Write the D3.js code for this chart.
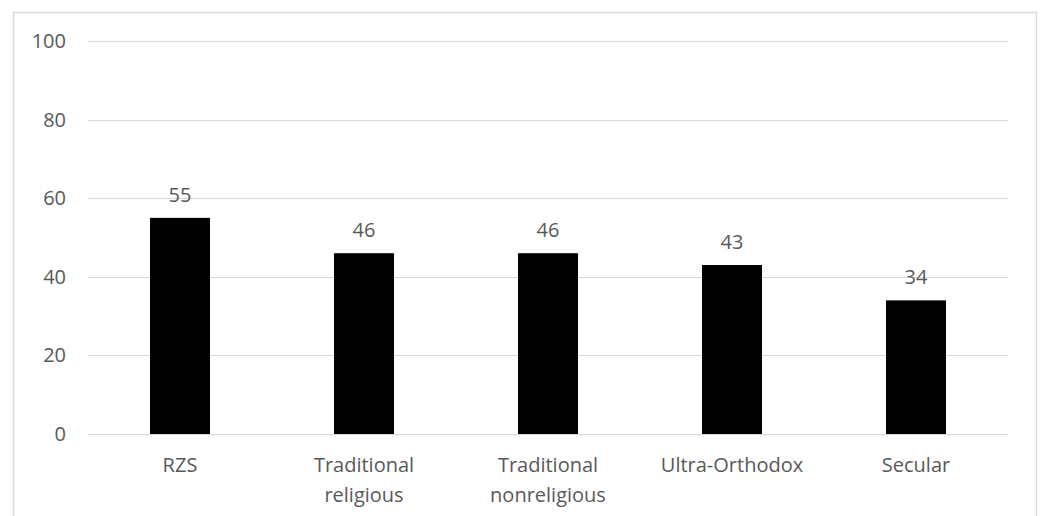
<!DOCTYPE html>
<html>
<head>
<meta charset="utf-8">
<script src="https://cdn.jsdelivr.net/npm/d3@7"></script>
<style>
  body { margin: 0; background: #fff; }
  text { font-family: "Open Sans", sans-serif; fill: #595959; }
</style>
</head>
<body>
<div id="chart"></div>
<script>
const categories = [["RZS"], ["Traditional", "religious"], ["Traditional", "nonreligious"], ["Ultra-Orthodox"], ["Secular"]];
const values = [55, 46, 46, 43, 34];
const yTicks = [0, 20, 40, 60, 80, 100];

const width = 1040;
const height = 516;
const margin = { top: 41, right: 32, bottom: 82, left: 88 };
const fontSize = "20px";

const svg = d3.select("#chart")
    .append("svg")
    .attr("width", width)
    .attr("height", height);

// Outer chart border (bottom runs off the picture)
svg.append("rect")
    .attr("x", 13.5)
    .attr("y", 12.5)
    .attr("width", 1023)
    .attr("height", 520)
    .attr("fill", "none")
    .attr("stroke", "#d9d9d9")
    .attr("stroke-width", 1.5);

const keys = d3.range(categories.length);

const xScale = d3.scaleBand()
    .domain(keys)
    .range([margin.left, width - margin.right])
    .paddingInner(0.674)
    .paddingOuter(0.337);

const yScale = d3.scaleLinear()
    .domain([0, 100])
    .range([height - margin.bottom, margin.top]);

// Gridlines
svg.append("g")
    .selectAll("line")
    .data(yTicks)
    .enter()
    .append("line")
    .attr("x1", margin.left)
    .attr("x2", width - margin.right)
    .attr("y1", d => Math.round(yScale(d)) + 0.5)
    .attr("y2", d => Math.round(yScale(d)) + 0.5)
    .attr("stroke", "#d9d9d9")
    .attr("stroke-width", 1.2);

// Y-axis labels
const yAxis = svg.append("g")
    .attr("transform", `translate(${margin.left}, 0)`)
    .call(d3.axisLeft(yScale).tickValues(yTicks).tickSize(0).tickPadding(22));
yAxis.select(".domain").remove();
yAxis.selectAll("text")
    .style("font-size", fontSize)
    .attr("fill", "#595959");

// Bars
svg.selectAll("rect.bar")
    .data(values)
    .enter()
    .append("rect")
    .attr("class", "bar")
    .attr("x", (d, i) => xScale(i))
    .attr("y", d => yScale(d))
    .attr("width", xScale.bandwidth())
    .attr("height", d => yScale(0) - yScale(d))
    .attr("fill", "#000");

// Value labels
svg.selectAll("text.value")
    .data(values)
    .enter()
    .append("text")
    .attr("class", "value")
    .attr("x", (d, i) => xScale(i) + xScale.bandwidth() / 2)
    .attr("y", d => yScale(d) - 16)
    .attr("text-anchor", "middle")
    .style("font-size", fontSize)
    .text(d => d);

// X-axis category labels
const xAxis = svg.append("g")
    .attr("transform", `translate(0, ${height - margin.bottom})`)
    .call(d3.axisBottom(xScale).tickSize(0).tickFormat(""));
xAxis.select(".domain").remove();

const labels = svg.append("g")
    .selectAll("text")
    .data(categories)
    .enter()
    .append("text")
    .attr("x", (d, i) => xScale(i) + xScale.bandwidth() / 2)
    .attr("y", height - margin.bottom + 38)
    .attr("text-anchor", "middle")
    .style("font-size", fontSize);

labels.selectAll("tspan")
    .data(d => d)
    .enter()
    .append("tspan")
    .attr("x", function () { return d3.select(this.parentNode).attr("x"); })
    .attr("dy", (d, i) => i === 0 ? 0 : 30)
    .text(d => d);
</script>
</body>
</html>
